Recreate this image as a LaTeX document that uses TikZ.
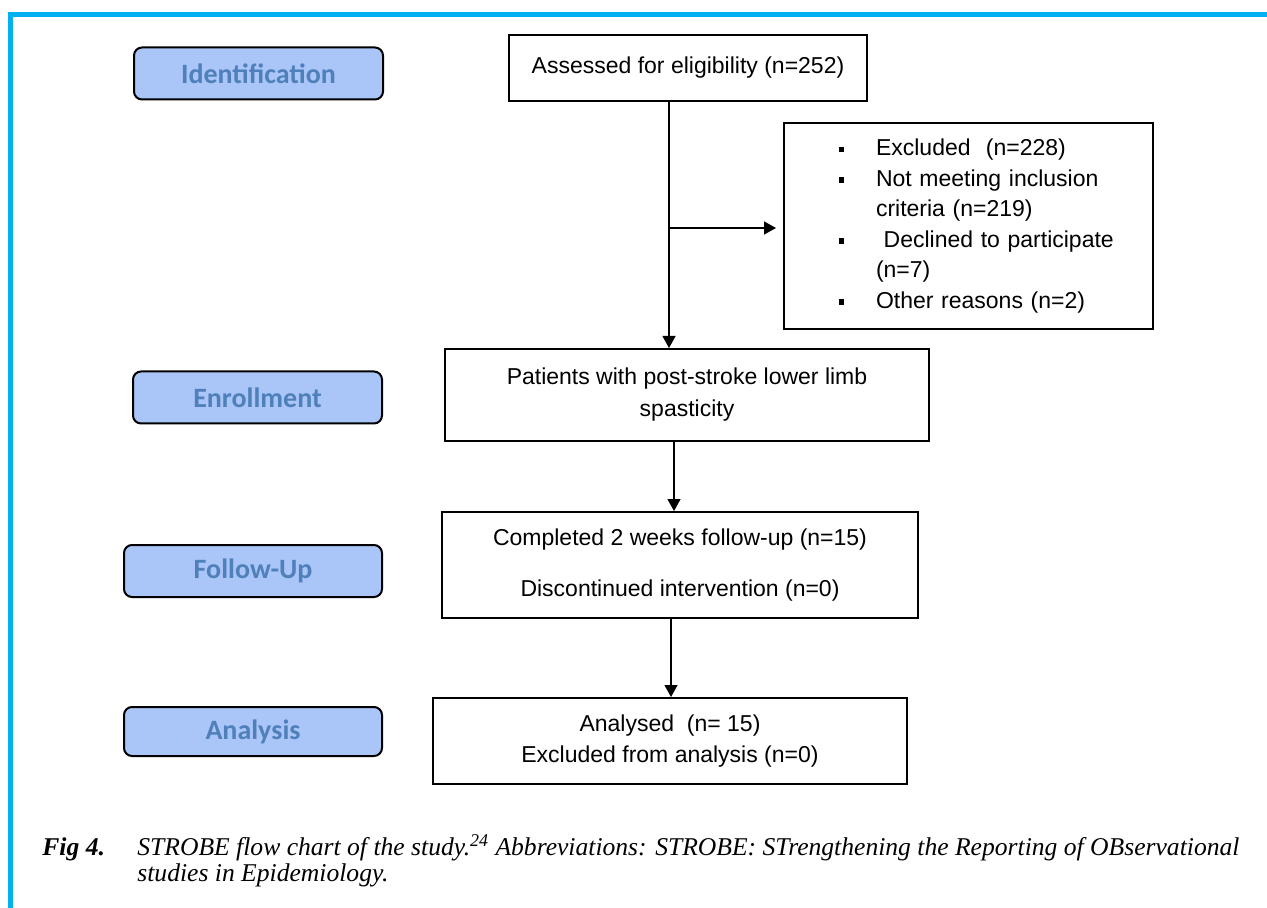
\documentclass[tikz,border=0pt]{standalone}
\usepackage{fontspec}
\usepackage{tikz}
\usetikzlibrary{arrows.meta}
\setmainfont{Liberation Serif}
\newfontfamily\boxfont{Liberation Sans}
\newfontfamily\phasefont{Carlito}
\definecolor{frameblue}{HTML}{00B0F0}
\definecolor{phasefill}{HTML}{AAC5F7}
\definecolor{phasetext}{HTML}{4F80BA}
\newcommand{\exbullet}{\rule[1.6pt]{2.7pt}{2.9pt}}
\newcommand{\exitem}[1]{\hspace*{27.5pt}\makebox[18.5pt][l]{\exbullet}#1}
\newcommand{\exmore}[1]{\hspace*{46pt}#1}
\tikzset{
  frame/.style={draw=frameblue, line width=2.5pt},
  phase/.style={draw=black, line width=1pt, fill=phasefill, rounded corners=4pt,
    text=phasetext, font=\phasefont\bfseries\fontsize{14}{16}\selectfont,
    inner sep=0pt, minimum height=26pt},
  stepbox/.style={draw=black, line width=1pt, inner sep=0pt, align=center,
    font=\boxfont\fontsize{11.5}{15.25}\selectfont},
  flow/.style={draw=black, line width=0.65pt, -{Triangle[length=6pt,width=6.5pt]}},
  capt/.style={inner sep=0pt, font=\fontsize{12.8}{14}\selectfont\itshape},
}
\begin{document}
\begin{tikzpicture}[x=0.5pt,y=-0.5pt]
  \useasboundingbox (0,0) rectangle (1267,908);
  % page frame
  \draw[frame] (10.5,908) -- (10.5,14.5) -- (1267,14.5);
  % phase labels
  \node[phase, minimum width=124.5pt] (identification) at (258.5,73.5) {Identification};
  \node[phase, minimum width=124.5pt] (enrollment) at (257.5,397.5) {Enrollment};
  \node[phase, minimum width=129pt] (followup) at (253,571) {Follow-Up};
  \node[phase, minimum width=129pt, minimum height=24.5pt] (analysis) at (253,731.5) {Analysis};
  % flow boxes
  \node[stepbox, minimum width=179pt, minimum height=33pt] (assessed) at (688,68)
    {Assessed for eligibility (n=252)};
  \node[stepbox, text width=184.5pt, minimum height=103pt, align=left] (excluded) at (968.5,226)
    {\exitem{Excluded\ \ (n=228)}\\
     \exitem{Not meeting inclusion}\\
     \exmore{criteria (n=219)}\\
     \exitem{\ Declined to participate}\\
     \exmore{(n=7)}\\
     \exitem{Other reasons (n=2)}};
  \node[stepbox, minimum width=242pt, minimum height=46pt] (patients) at (687,395)
    {Patients with post-stroke lower limb\\[0.75pt] spasticity};
  \node[stepbox, minimum width=238pt, minimum height=53pt] (completed) at (680,565)
    {Completed 2 weeks follow-up (n=15)\\[10.25pt] Discontinued intervention (n=0)};
  \node[stepbox, minimum width=237pt, minimum height=43pt] (analysed) at (670,741)
    {Analysed\ \ (n=\ 15)\\ Excluded from analysis (n=0)};
  % connectors
  \coordinate (spine) at (669,0);
  \coordinate (branch) at (669,228);
  \coordinate (spinetwo) at (674,0);
  \coordinate (spinethree) at (671,0);
  \draw[flow] (assessed.south -| spine) -- (patients.north -| spine);
  \draw[flow, shorten >=3.5pt] (branch) -- (excluded.west |- branch);
  \draw[flow] (patients.south -| spinetwo) -- (completed.north -| spinetwo);
  \draw[flow] (completed.south -| spinethree) -- (analysed.north -| spinethree);
  % caption
  \node[capt, anchor=base west] (fignum) at (42,855) {\textbf{Fig 4.}};
  \node[capt, anchor=base west] (captone) at (137,855)
    {STROBE flow chart of the study.\textsuperscript{24} Abbreviations: STROBE: STrengthening the Reporting of OBservational};
  \node[capt, anchor=base west] (capttwo) at (137,881) {studies in Epidemiology.};
\end{tikzpicture}
\end{document}
